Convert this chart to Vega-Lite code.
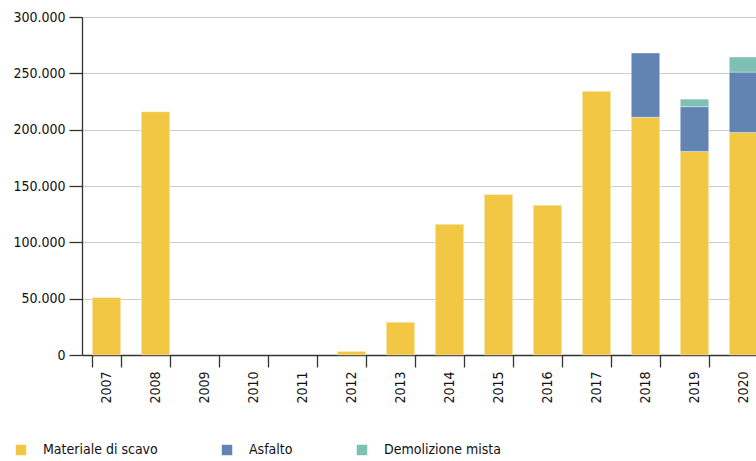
{
  "$schema": "https://vega.github.io/schema/vega-lite/v6.json",
  "autosize": {"type": "none"},
  "padding": {"left": 82, "top": 17, "right": 0, "bottom": 106},
  "width": 686,
  "height": 338,
  "background": "white",
  "config": {
    "locale": {"number": {"decimal": ",", "thousands": ".", "grouping": [3], "currency": ["€", ""]}},
    "font": "DejaVu Sans Condensed",
    "view": {"stroke": null}
  },
  "data": {
    "values": [
      {"anno": "2007", "tipo": "Materiale di scavo", "valore": 51000},
      {"anno": "2008", "tipo": "Materiale di scavo", "valore": 216000},
      {"anno": "2012", "tipo": "Materiale di scavo", "valore": 3200},
      {"anno": "2013", "tipo": "Materiale di scavo", "valore": 29000},
      {"anno": "2014", "tipo": "Materiale di scavo", "valore": 116000},
      {"anno": "2015", "tipo": "Materiale di scavo", "valore": 142500},
      {"anno": "2016", "tipo": "Materiale di scavo", "valore": 133000},
      {"anno": "2017", "tipo": "Materiale di scavo", "valore": 234000},
      {"anno": "2018", "tipo": "Materiale di scavo", "valore": 211000},
      {"anno": "2018", "tipo": "Asfalto", "valore": 57000},
      {"anno": "2019", "tipo": "Materiale di scavo", "valore": 180700},
      {"anno": "2019", "tipo": "Asfalto", "valore": 39700},
      {"anno": "2019", "tipo": "Demolizione mista", "valore": 6700},
      {"anno": "2020", "tipo": "Materiale di scavo", "valore": 197500},
      {"anno": "2020", "tipo": "Asfalto", "valore": 53600},
      {"anno": "2020", "tipo": "Demolizione mista", "valore": 13400}
    ]
  },
  "transform": [
    {"calculate": "indexof(['Materiale di scavo', 'Asfalto', 'Demolizione mista'], datum.tipo)", "as": "ordine"}
  ],
  "mark": {"type": "bar", "stroke": "white", "strokeWidth": 0.6, "strokeOpacity": 0.6},
  "encoding": {
    "x": {
      "field": "anno",
      "type": "ordinal",
      "title": null,
      "scale": {
        "domain": ["2007", "2008", "2009", "2010", "2011", "2012", "2013", "2014", "2015", "2016", "2017", "2018", "2019", "2020"],
        "paddingInner": 0.42,
        "paddingOuter": 0.21
      },
      "axis": {
        "labelAngle": -90,
        "labelAlign": "right",
        "labelBaseline": "middle",
        "labelFontSize": 14,
        "labelColor": "#111",
        "labelPadding": 4,
        "tickBand": "extent",
        "tickSize": 12,
        "tickColor": "#333",
        "domainColor": "#333",
        "tickWidth": 1.3,
        "domainWidth": 1.3
      }
    },
    "y": {
      "field": "valore",
      "type": "quantitative",
      "aggregate": "sum",
      "stack": "zero",
      "title": null,
      "scale": {"domain": [0, 300000], "nice": false},
      "axis": {
        "values": [0, 50000, 100000, 150000, 200000, 250000, 300000],
        "format": ",d",
        "labelFontSize": 14,
        "labelColor": "#111",
        "labelPadding": 4,
        "tickSize": 13,
        "tickColor": "#333",
        "domainColor": "#333",
        "tickWidth": 1.3,
        "domainWidth": 1.3,
        "gridColor": "#cccccc",
        "gridWidth": 1
      }
    },
    "color": {
      "field": "tipo",
      "type": "nominal",
      "title": null,
      "scale": {
        "domain": ["Materiale di scavo", "Asfalto", "Demolizione mista"],
        "range": ["#F2C744", "#6184B3", "#7DC1B5"]
      },
      "legend": {
        "orient": "none",
        "legendX": -68,
        "legendY": 426,
        "direction": "horizontal",
        "symbolType": "square",
        "symbolSize": 110,
        "symbolStrokeWidth": 0,
        "labelFontSize": 14,
        "labelColor": "#111",
        "labelOffset": 15,
        "columnPadding": 62
      }
    },
    "order": {"field": "ordine", "type": "quantitative"}
  }
}
